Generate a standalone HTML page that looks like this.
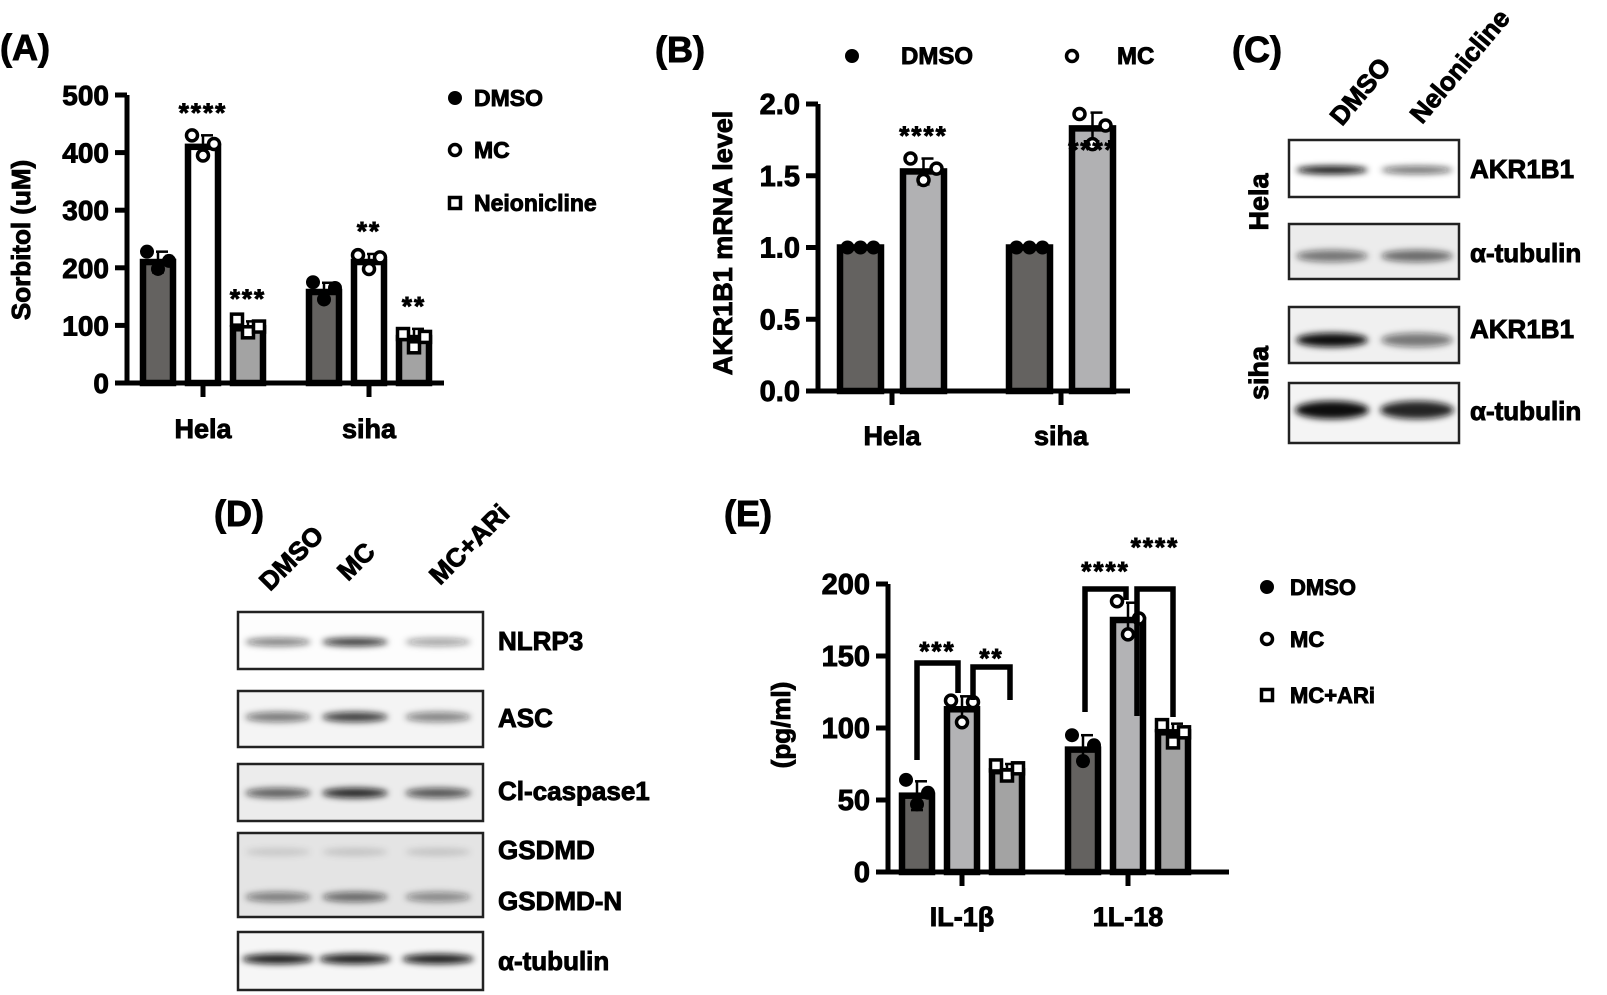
<!DOCTYPE html>
<html><head><meta charset="utf-8"><style>
html,body{margin:0;padding:0;background:#fff;}
svg{display:block;font-family:"Liberation Sans",Arial,sans-serif;font-weight:bold;}
text{stroke:#000;stroke-width:0.9px;}
</style></head><body>
<svg id="fig" width="1607" height="995" viewBox="0 0 1607 995">
<defs>
<filter id="blur" x="-30%" y="-100%" width="160%" height="300%"><feGaussianBlur stdDeviation="3.2"/></filter>
</defs>
<g id="root"></g>
</svg>
<script>
// ---------- Panel A data ----------
const catsA = ['Hela','siha'];
const seriesNamesA = ['DMSO','MC','Neionicline'];
const meanA_DMSO = [210,158];
const meanA_MC = [410,210];
const meanA_Neo = [95,78];
const sdA_DMSO = [18,16];
const sdA_MC = [20,14];
const sdA_Neo = [12,16];
const repA_DMSO = [[228,198,212],[175,145,165]];
const repA_MC = [[430,395,415],[222,198,218]];
const repA_Neo = [[110,88,98],[85,62,80]];
const ticksA = [0,100,200,300,400,500];
const starsA = [['','****','***'],['','**','**']];
// ---------- Panel B data ----------
const catsB = ['Hela','siha'];
const meanB_DMSO = [1.0,1.0];
const meanB_MC = [1.53,1.83];
const sdB_DMSO = [0,0];
const sdB_MC = [0.09,0.11];
const repB_DMSO = [[1,1,1],[1,1,1]];
const repB_MC = [[1.62,1.47,1.55],[1.93,1.72,1.85]];
const ticksB = [0,0.5,1.0,1.5,2.0];
const starsB = [['','****'],['','****']];
// ---------- Panel E data ----------
const catsE = ['IL-1β','1L-18'];
const meanE_DMSO = [53,85];
const meanE_MC = [113,175];
const meanE_ARi = [70,97];
const sdE_DMSO = [10,10];
const sdE_MC = [9,12];
const sdE_ARi = [5,6];
const repE_DMSO = [[64,47,55],[95,77,88]];
const repE_MC = [[119,104,118],[188,165,176]];
const repE_ARi = [[74,67,72],[102,90,97]];
const ticksE = [0,50,100,150,200];
// ---------- Blot data (band intensities per lane) ----------
const blotC_lanes = ['DMSO','Nelonicline'];
const blotC_rows = ['AKR1B1','α-tubulin','AKR1B1','α-tubulin'];
const blotC_int = [[1.0,0.6],[0.55,0.6],[1.0,0.55],[1.0,0.9]];
const blotD_lanes = ['DMSO','MC','MC+ARi'];
const blotD_int_NLRP3 = [0.55,0.85,0.4];
const blotD_int_ASC = [0.55,0.8,0.5];
const blotD_int_casp = [0.65,0.9,0.7];
const blotD_int_GSDMD = [0.12,0.14,0.14];
const blotD_int_GSDMDN = [0.5,0.6,0.45];
const blotD_int_tub = [0.95,0.95,0.95];

const NS='http://www.w3.org/2000/svg';
const root=document.getElementById('root');
function mk(tag,attrs,parent){const e=document.createElementNS(NS,tag);for(const k in attrs)e.setAttribute(k,attrs[k]);(parent||root).appendChild(e);return e;}
function txt(x,y,s,size,anchor,parent,extra){const t=mk('text',Object.assign({x:x,y:y,'font-size':size,'text-anchor':anchor||'start',fill:'#000'},extra||{}),parent);t.textContent=s;return t;}

function marker(g,shape,cx,cy,r){
  if(shape==='dot') return mk('circle',{cx:cx,cy:cy,r:r,fill:'#000'},g);
  if(shape==='circle') return mk('circle',{cx:cx,cy:cy,r:r-1.5,fill:'#fff',stroke:'#000','stroke-width':3.5},g);
  return mk('rect',{x:cx-r+1.5,y:cy-r+1.5,width:2*r-3,height:2*r-3,fill:'#fff',stroke:'#000','stroke-width':3.5},g);
}

function barChart(o){
  const g=mk('g',{});
  
  
  const y=v=>o.y0-(v-0)*o.scale;
  const ax=mk('path',{d:`M${o.ax} ${y(o.ticks[o.ticks.length-1])} L${o.ax} ${o.y0} L${o.axEnd} ${o.y0}`,fill:'none',stroke:'#000','stroke-width':5},g);
  
  
  o.ticks.forEach(t=>{
    mk('line',{x1:o.ax-12,x2:o.ax,y1:y(t),y2:y(t),stroke:'#000','stroke-width':5},g);
    const tl=txt(o.ax-18,y(t)+10,o.tickFmt(t),o.tickSize,'end',g);
    
    
  });
  o.cats.forEach((c,ci)=>{
    const cx=o.catX[ci];
    mk('line',{x1:cx,x2:cx,y1:o.y0,y2:o.y0+14,stroke:'#000','stroke-width':5},g);
    const cl=txt(cx,o.catY,c,27,'middle',g);
    
    
    const n=o.series.length;
    o.series.forEach((s,si)=>{
      const bx=cx+(si-(n-1)/2)*o.step;
      const v=s.mean[ci];
      const b=mk('rect',{x:bx-o.bw/2,y:y(v),width:o.bw,height:o.y0-y(v),fill:s.color,stroke:'#000','stroke-width':6.5},g);
      
      
      const sd=s.sd[ci];
      if(sd>0){
        mk('line',{x1:bx,x2:bx,y1:y(v),y2:y(v+sd),stroke:'#000','stroke-width':2.5},g);
        mk('line',{x1:bx-2,x2:bx+10,y1:y(v+sd),y2:y(v+sd),stroke:'#000','stroke-width':2.5},g);
        mk('line',{x1:bx,x2:bx,y1:y(v),y2:y(v-sd),stroke:'#000','stroke-width':2.5},g);
        mk('line',{x1:bx-6,x2:bx+6,y1:y(v-sd),y2:y(v-sd),stroke:'#000','stroke-width':2.5},g);
      }
      s.reps[ci].forEach((rv,ri)=>{
        const p=marker(g,s.shape,bx+(ri-1)*o.jit,y(rv),7);
        
        
      });
      if(o.stars&&o.stars[ci][si]){
        const dy=o.starDy?o.starDy[ci][si]:0;
        const st=txt(bx,y(v+sd)-14+dy,o.stars[ci][si],26,'middle',g,{'letter-spacing':'2'});
        
        
      }
    });
  });
  const yt=txt(0,0,o.ytitle,o.ytSize||25,'middle',g,{transform:`translate(${o.ytX},${o.ytY}) rotate(-90)`});
  
  
  return {g,y};
}

// Panel labels
[['(A)',0,60],['(B)',655,62],['(C)',1232,62],['(D)',214,526],['(E)',724,526]].forEach(p=>{
  const t=txt(p[1],p[2],p[0],36);
  
  
});

// Panel A
barChart({name:'panel-a-chart',ax:127,axEnd:444,y0:383,scale:0.576,ticks:ticksA,tickFmt:t=>String(t),tickSize:28,
  cats:catsA,catX:[203,369],catY:438,step:45,bw:30,jit:11,
  series:[{name:'DMSO',mean:meanA_DMSO,sd:sdA_DMSO,reps:repA_DMSO,color:'#646260',shape:'dot'},
          {name:'MC',mean:meanA_MC,sd:sdA_MC,reps:repA_MC,color:'#ffffff',shape:'circle'},
          {name:'Neionicline',mean:meanA_Neo,sd:sdA_Neo,reps:repA_Neo,color:'#a3a3a3',shape:'square'}],
  stars:starsA,ytitle:'Sorbitol (uM)',ytSize:26,ytX:30,ytY:240});
[['dot','DMSO',98],['circle','MC',150],['square','Neionicline',203]].forEach(l=>{
  const g=mk('g',{});
  
  
  marker(g,l[0],455,l[2],7);txt(474,l[2]+8,l[1],23,'start',g);
});

// Panel B
barChart({name:'panel-b-chart',ax:818,axEnd:1130,y0:391,scale:143.5,ticks:ticksB,tickFmt:t=>t.toFixed(1),tickSize:29,
  cats:catsB,catX:[892,1061],catY:445,step:63,bw:41,jit:13,
  series:[{name:'DMSO',mean:meanB_DMSO,sd:sdB_DMSO,reps:repB_DMSO,color:'#646260',shape:'dot'},
          {name:'MC',mean:meanB_MC,sd:sdB_MC,reps:repB_MC,color:'#b1b1b3',shape:'circle'}],
  stars:starsB,starDy:[[0,0],[0,60]],ytitle:'AKR1B1 mRNA level',ytSize:27,ytX:732,ytY:243});
[['dot','DMSO',852,901],['circle','MC',1072,1117]].forEach(l=>{
  const g=mk('g',{});
  
  
  marker(g,l[0],l[2],56,7);txt(l[3],64,l[1],24,'start',g);
});

// Panel E
barChart({name:'panel-e-chart',ax:888,axEnd:1229,y0:872,scale:1.44,ticks:ticksE,tickFmt:t=>String(t),tickSize:29,
  cats:catsE,catX:[962,1128],catY:926,step:45,bw:30,jit:11,
  series:[{name:'DMSO',mean:meanE_DMSO,sd:sdE_DMSO,reps:repE_DMSO,color:'#646260',shape:'dot'},
          {name:'MC',mean:meanE_MC,sd:sdE_MC,reps:repE_MC,color:'#b3b3b5',shape:'circle'},
          {name:'MC+ARi',mean:meanE_ARi,sd:sdE_ARi,reps:repE_ARi,color:'#a3a3a3',shape:'square'}],
  stars:null,ytitle:'(pg/ml)',ytSize:26,ytX:790,ytY:725});
[[917,760,663,958,693,'***',650],[973,700,667,1010,700,'**',657],[1085,712,589,1126,600,'****',570],[1137,716,589,1173,717,'****',546]].forEach(b=>{
  const g=mk('g',{});
  
  
  mk('path',{d:`M${b[0]} ${b[1]} L${b[0]} ${b[2]} L${b[3]} ${b[2]} L${b[3]} ${b[4]}`,fill:'none',stroke:'#000','stroke-width':5.5},g);
  txt((b[0]+b[3])/2,b[6]+10,b[5],26,'middle',g,{'letter-spacing':'2'});
});
[['dot','DMSO',587],['circle','MC',639],['square','MC+ARi',695]].forEach(l=>{
  const g=mk('g',{});
  
  
  marker(g,l[0],1267,l[2],7);txt(1290,l[2]+8,l[1],22,'start',g);
});

// Blots
function blot(name,x,y,w,h,bg,lanesX,bands,laneW){
  const g=mk('g',{});
  
  
  mk('rect',{x:x,y:y,width:w,height:h,fill:bg},g);
  bands.forEach(b=>{
    b.int.forEach((v,i)=>{
      mk('ellipse',{cx:lanesX[i],cy:b.y,rx:laneW/2,ry:b.h||5,fill:'#111','fill-opacity':v,filter:'url(#blur)'},g);
    });
  });
  mk('rect',{x:x,y:y,width:w,height:h,fill:'none',stroke:'#222','stroke-width':2.5},g);
}
const lanesC=[1332,1417];
blot('blot-hela-akr1b1',1289,140,170,57,'#ffffff',lanesC,[{y:170,int:blotC_int[0],h:4}],72);
blot('blot-hela-tubulin',1289,224,170,55,'#ececec',lanesC,[{y:256,int:blotC_int[1],h:6}],72);
blot('blot-siha-akr1b1',1289,307,170,56,'#f0f0f0',lanesC,[{y:340,int:blotC_int[2],h:7}],72);
blot('blot-siha-tubulin',1289,383,170,60,'#f4f4f4',lanesC,[{y:410,int:blotC_int[3],h:9}],74);
[['AKR1B1',178],['α-tubulin',262],['AKR1B1',338],['α-tubulin',420]].forEach(l=>{
  const t=txt(1470,l[1],l[0],26);
  
  
});
[['Hela',1268,202],['siha',1268,373]].forEach(l=>{
  const t=txt(0,0,l[0],27,'middle',root,{transform:`translate(${l[1]},${l[2]}) rotate(-90)`});
  
  
});
[['DMSO',1342,127],['Nelonicline',1422,125]].forEach(l=>{
  const t=txt(0,0,l[0],26,'start',root,{transform:`translate(${l[1]},${l[2]}) rotate(-50)`});
  
  
});
const lanesD=[278,355,438];
blot('blot-nlrp3',238,612,245,57,'#fdfdfd',lanesD,[{y:642,int:blotD_int_NLRP3,h:4}],66);
blot('blot-asc',238,691,245,56,'#f4f4f4',lanesD,[{y:717,int:blotD_int_ASC,h:5}],66);
blot('blot-cl-caspase1',238,764,245,57,'#ececec',lanesD,[{y:793,int:blotD_int_casp,h:5}],66);
blot('blot-gsdmd',238,833,245,84,'#e4e4e4',lanesD,[{y:852,int:blotD_int_GSDMD,h:4},{y:897,int:blotD_int_GSDMDN,h:5}],66);
blot('blot-d-tubulin',238,932,245,58,'#f6f6f6',lanesD,[{y:959,int:blotD_int_tub,h:5}],72);
[['NLRP3',650],['ASC',727],['Cl-caspase1',800],['GSDMD',859],['GSDMD-N',910],['α-tubulin',970]].forEach(l=>{
  const t=txt(498,l[1],l[0],26);
  
  
});
[['DMSO',270,592],['MC',348,582],['MC+ARi',440,586]].forEach(l=>{
  const t=txt(0,0,l[0],26,'start',root,{transform:`translate(${l[1]},${l[2]}) rotate(-45)`});
  
  
});
</script>
</body></html>
